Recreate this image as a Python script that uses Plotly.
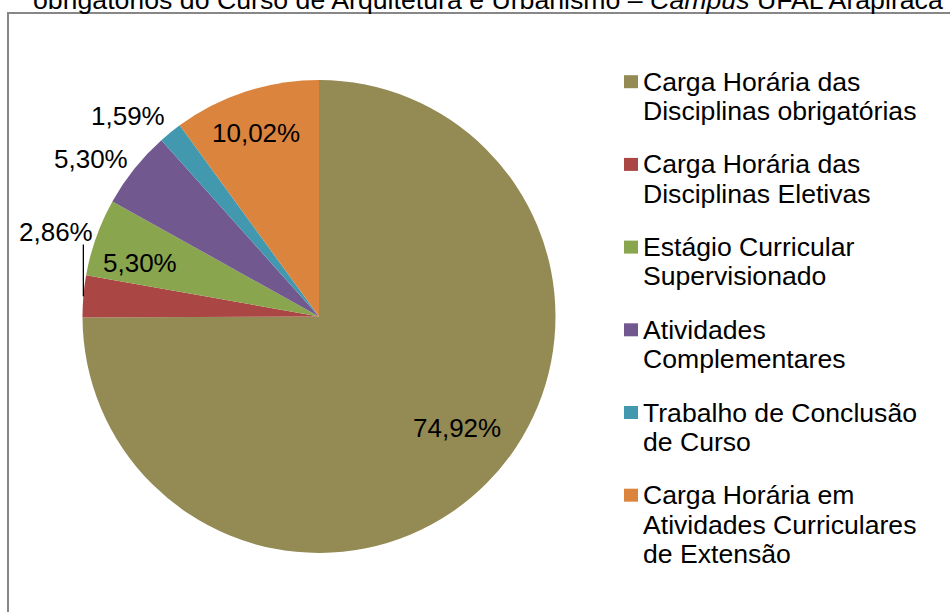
import math
import plotly.graph_objects as go

# ---------------- data ----------------
categories = [
    "Carga Horária das<br>Disciplinas obrigatórias",
    "Carga Horária das<br>Disciplinas Eletivas",
    "Estágio Curricular<br>Supervisionado",
    "Atividades<br>Complementares",
    "Trabalho de Conclusão<br>de Curso",
    "Carga Horária em<br>Atividades Curriculares<br>de Extensão",
]
values = [74.92, 2.86, 5.30, 5.30, 1.59, 10.02]
colors = ["#948A54", "#AA4643", "#89A54E", "#71588F", "#4198AF", "#DB843D"]
title_text = "obrigatórios do Curso de Arquitetura e Urbanismo – <i>Campus</i> UFAL Arapiraca"

# ---------------- layout helpers ----------------
W, H = 950, 612
FONT = "Liberation Sans, Arial, sans-serif"


def px(x):
    return x / W


def py(y):
    return 1 - y / H


# pie geometry (pixels)
CX, CY, R = 319, 316.5, 236.5

# label placement styling: radial factor, angular nudge (deg)
label_rf = [0.75, 1.17, 0.79, 1.17, 1.17, 0.82]
label_nudge = [-6, 13, -3, -4, -4.7, -1]

fig = go.Figure()
fig.add_trace(go.Pie(
    labels=[c.replace("<br>", " ") for c in categories],
    values=values,
    marker=dict(colors=colors, line=dict(width=0)),
    sort=False,
    direction="clockwise",
    rotation=0,
    textinfo="none",
    hoverinfo="label+value",
    showlegend=False,
    domain=dict(x=[px(CX - R), px(CX + R)], y=[py(CY + R), py(CY - R)]),
))

annotations = []
shapes = []

# data labels
total = sum(values)
cum = 0.0
for i, v in enumerate(values):
    a0 = cum / total * 360
    cum += v
    a1 = cum / total * 360
    mid = (a0 + a1) / 2
    ang = math.radians(mid + label_nudge[i])
    rr = label_rf[i] * R
    lx = CX + rr * math.sin(ang)
    ly = CY - rr * math.cos(ang)
    txt = f"{v:.2f}%".replace(".", ",")
    annotations.append(dict(
        x=px(lx), y=py(ly), xref="paper", yref="paper",
        text=txt, showarrow=False, xanchor="center", yanchor="middle",
        font=dict(family=FONT, size=26, color="black"),
    ))
    if i == 1:
        # leader line from slice edge up to the label
        m = math.radians(mid)
        ex = CX + R * math.sin(m)
        ey = CY - R * math.cos(m)
        shapes.append(dict(type="line", xref="paper", yref="paper",
                           x0=px(ex), y0=py(ey), x1=px(ex), y1=py(ly + 13),
                           line=dict(color="black", width=1.3)))

# legend (manual, to match tight line spacing)
row_h = 29.3
gap = 24.1
y = 81.7
for i, cat in enumerate(categories):
    lines = cat.split("<br>")
    shapes.append(dict(type="rect", xref="paper", yref="paper",
                       x0=px(624), x1=px(638), y0=py(y - 6.5), y1=py(y + 6.5),
                       fillcolor=colors[i], line=dict(width=0)))
    for k, ln in enumerate(lines):
        annotations.append(dict(
            x=px(641), y=py(y + k * row_h), xref="paper", yref="paper",
            text=ln, showarrow=False, xanchor="left", yanchor="middle",
            font=dict(family=FONT, size=26.6, color="black"),
        ))
    y = y + (len(lines) - 1) * row_h + row_h + gap

# chart border
shapes.append(dict(type="rect", xref="paper", yref="paper",
                   x0=px(8), x1=px(965), y0=py(13), y1=py(630),
                   line=dict(color="#878787", width=2), fillcolor="rgba(0,0,0,0)",
                   layer="below"))

# cut-off title
annotations.append(dict(
    x=px(488), y=py(17), xref="paper", yref="paper",
    text=title_text, showarrow=False, xanchor="center", yanchor="bottom",
    font=dict(family=FONT, size=26.7, color="black"),
))

fig.update_layout(
    width=W, height=H,
    margin=dict(l=0, r=0, t=0, b=0),
    paper_bgcolor="white",
    plot_bgcolor="white",
    annotations=annotations,
    shapes=shapes,
    separators=",.",
)

fig.write_html(
    "out.html",
    config={"displayModeBar": False},
    post_script="document.body.style.margin='0';document.body.style.overflow='hidden';",
)
